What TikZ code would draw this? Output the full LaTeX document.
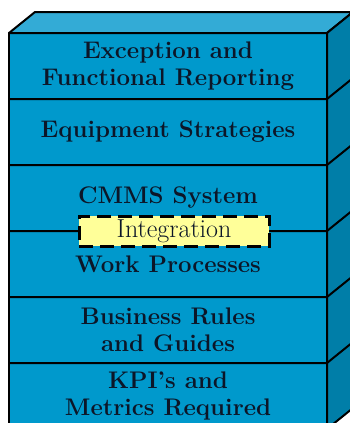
\documentclass[tikz,border=0pt]{standalone}
\usepackage{fontspec}
\usetikzlibrary{shapes, arrows, positioning}
\definecolor{frontblue}{RGB}{0,153,204}
\definecolor{topblue}{RGB}{51,171,214}
\definecolor{sideblue}{RGB}{0,126,168}
\definecolor{ink}{RGB}{12,22,40}
\definecolor{noteyellow}{RGB}{255,255,153}
\tikzstyle{layer} = [rectangle, fill=frontblue, minimum width=318pt, minimum height=66pt, outer sep=0pt, text=ink, align=center, font=\fontsize{24pt}{27pt}\selectfont\bfseries]
\tikzstyle{face} = [draw, line width=2pt, line join=round]
\tikzstyle{divider} = [draw, line width=2pt]
\tikzstyle{notebox} = [rectangle, draw, line width=3pt, dash pattern=on 14pt off 7pt, fill=noteyellow, minimum width=190pt, minimum height=30pt, inner sep=0pt, text=ink, font=\fontsize{26pt}{28pt}\selectfont]

\begin{document}
\begin{tikzpicture}[node distance = 66pt]
    \useasboundingbox (0,0) rectangle (350pt,-423pt);
    \clip (0,0) rectangle (350pt,-423pt);
    \node[layer](exception) at (168pt,-66pt){Exception and\\Functional Reporting};
    \node[layer, below of=exception](equipment){Equipment Strategies};
    \node[layer, below of=equipment](cmms){CMMS System};
    \node[layer, below of=cmms](work){Work Processes};
    \node[layer, below of=work](business){Business Rules\\and Guides};
    \node[layer, below of=business](kpi){KPI’s and\\Metrics Required};

    \path[face] (exception.north west) rectangle (kpi.south east);
    \path[face, fill=topblue] (exception.north west) -- ++(26pt,21pt) -- ([shift={(26pt,21pt)}]exception.north east) -- (exception.north east) -- cycle;
    \path[face, fill=sideblue] (exception.north east) -- ++(26pt,21pt) -- ([shift={(26pt,21pt)}]kpi.south east) -- (kpi.south east) -- cycle;
    \foreach \n in {exception, equipment, cmms, work, business}
        \path[divider] (\n.south west) -- (\n.south east) -- ++(26pt,21pt);

    \node[notebox] (integration) at ([xshift=6pt]cmms.south) {Integration};
\end{tikzpicture}
\end{document}
